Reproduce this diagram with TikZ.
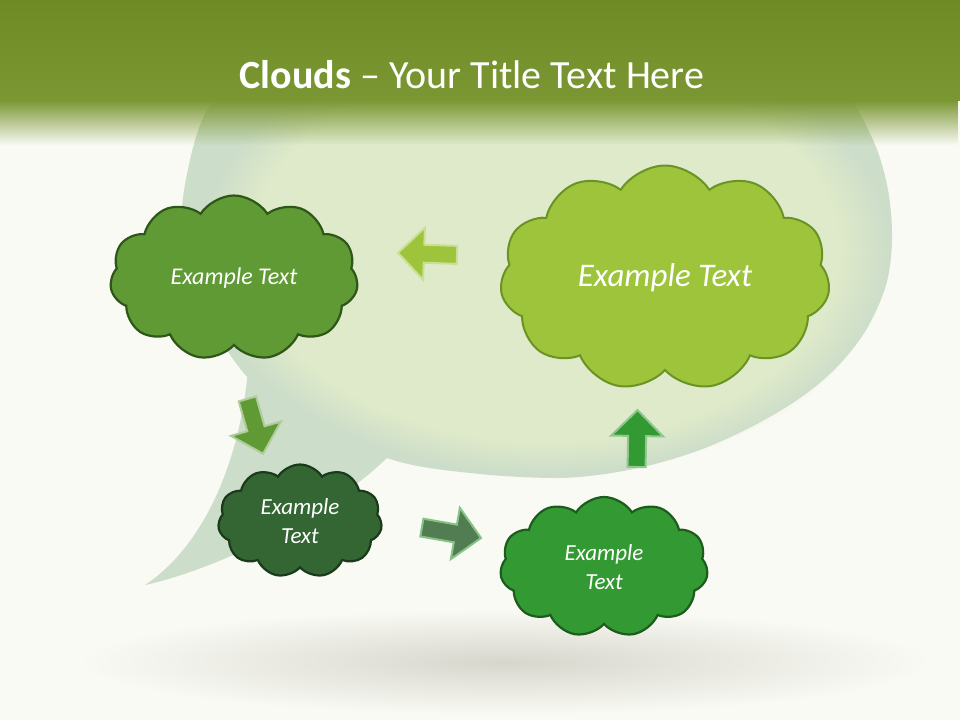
\documentclass[tikz,border=0pt]{standalone}
\usepackage{fontspec}
\setmainfont{Carlito}
\usetikzlibrary{shapes.symbols, shapes.arrows, fadings}

\definecolor{pagebg}{HTML}{F9FAF4}
\definecolor{hdrtop}{HTML}{6E8B25}
\definecolor{hdrbot}{HTML}{7B9733}
\definecolor{bubblerim}{HTML}{CCDDC9}
\definecolor{bubblein}{HTML}{DFEACA}
\definecolor{shadowc}{HTML}{D8D7CE}
\definecolor{olivefill}{HTML}{5F9A35}
\definecolor{olivedraw}{HTML}{2D5618}
\definecolor{limefill}{HTML}{9DC43A}
\definecolor{limedraw}{HTML}{6A9326}
\definecolor{forestfill}{HTML}{336633}
\definecolor{forestdraw}{HTML}{1B3A1B}
\definecolor{grassfill}{HTML}{339933}
\definecolor{grassdraw}{HTML}{1C5C1C}

\tikzfading[name=shadowfade, inner color=transparent!0, outer color=transparent!100]

\begin{document}
\begin{tikzpicture}[x=1pt, y=-1pt,
  puff/.style={cloud, cloud puffs=11, cloud puff arc=115, cloud ignores aspect, draw, line width=2.2pt, text=white, align=center, inner sep=0pt, font=\itshape\fontsize{23}{29}\selectfont},
  blockarrow/.style={single arrow, single arrow head extend=17pt, inner xsep=0pt, inner ysep=8pt, line width=2pt}]
  \useasboundingbox (0,0) rectangle (960,720);
  \fill[pagebg] (0,0) rectangle (960,720);

  % Floor shadow
  \fill[shadowc, path fading=shadowfade] (505,662) ellipse [x radius=420, y radius=52];

  % Speech bubble
  \fill[bubblerim] plot[smooth cycle, tension=0.55] coordinates {(580,30) (700,38) (785,55) (840,85) (873,140) (888,190) (892,240) (886,285) (866,330) (836,368) (800,398) (755,425) (705,448) (655,464) (605,474) (555,478) (480,474) (400,462) (320,430) (250,380) (205,310) (182,230) (190,160) (210,105) (250,70) (330,45) (450,32)};
  \fill[bubblerim] (248,370) .. controls (240,460) and (205,545) .. (145,585) .. controls (215,570) and (330,515) .. (390,455) -- (320,400) -- cycle;
  \fill[bubblein, path fading=circle with fuzzy edge 15 percent] (545,250) ellipse [x radius=345, y radius=225];

  % Title band
  \shade[top color=hdrtop, bottom color=hdrbot] (0,0) rectangle (960,100);
  \fill[hdrbot, path fading=south] (0,100) rectangle (960,145);
  \node[text=white, font=\fontsize{40}{48}\selectfont] (title) at (472,75) {\textbf{Clouds} -- Your Title Text Here};

  % Clouds
  \node[puff, fill=olivefill, draw=olivedraw, minimum width=248pt, minimum height=165pt, font=\itshape\fontsize{24}{29}\selectfont] (cloudOlive) at (234,278) {Example Text};
  \node[puff, fill=limefill, draw=limedraw, line width=2pt, minimum width=330pt, minimum height=225pt, font=\itshape\fontsize{33}{40}\selectfont] (cloudLime) at (665,278) {Example Text};
  \node[puff, fill=forestfill, draw=forestdraw, minimum width=164pt, minimum height=113pt] (cloudForest) at (300,521) {Example\\Text};
  \node[puff, fill=grassfill, draw=grassdraw, minimum width=208pt, minimum height=140pt] (cloudGrass) at (604,567) {Example\\Text};

  % Block arrows between the clouds
  \node[blockarrow, fill=limefill, draw=limefill!55!white, minimum height=59pt, rotate=178] (arrLeft) at (432,254) {};
  \node[blockarrow, fill=olivefill, draw=olivefill!50!white, minimum height=57pt, rotate=-74] (arrDown) at (254,422) {};
  \node[blockarrow, fill=forestfill!85!white, draw=grassfill!60!white, minimum height=60pt, rotate=-10] (arrRight) at (447,532) {};
  \node[blockarrow, fill=grassfill, draw=grassfill!55!white, minimum height=57pt, rotate=89] (arrUp) at (637,443) {};
\end{tikzpicture}
\end{document}
